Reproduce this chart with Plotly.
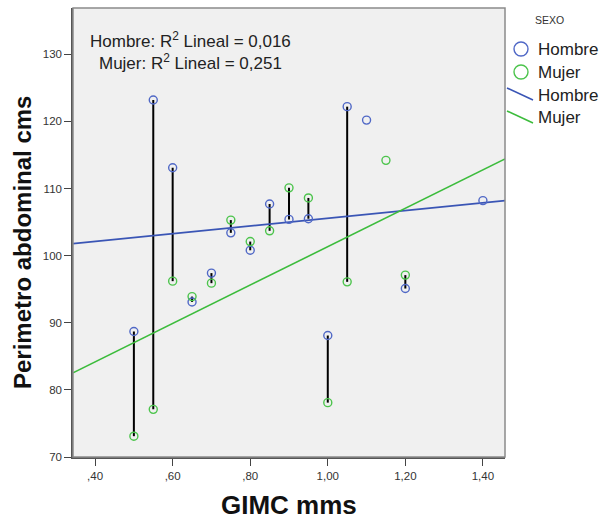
import numpy as np
import plotly.graph_objects as go

# ---------------- data ----------------
hombre_x = [0.50, 0.55, 0.60, 0.65, 0.70, 0.75, 0.80, 0.85, 0.90, 0.95, 1.00, 1.05, 1.10, 1.20, 1.40]
hombre_y = [88.7, 123.2, 113.1, 93.1, 97.4, 103.4, 100.8, 107.7, 105.4, 105.5, 88.1, 122.2, 120.2, 95.1, 108.2]
mujer_x = [0.50, 0.55, 0.60, 0.65, 0.70, 0.75, 0.80, 0.85, 0.90, 0.95, 1.00, 1.05, 1.15, 1.20]
mujer_y = [73.1, 77.1, 96.2, 93.9, 95.9, 105.3, 102.1, 103.7, 110.1, 108.6, 78.1, 96.1, 114.2, 97.1]
groups = ["Hombre", "Mujer"]
r2_values = ["0,016", "0,251"]
x_tickvals = [0.40, 0.60, 0.80, 1.00, 1.20, 1.40]
x_ticktext = [",40", ",60", ",80", "1,00", "1,20", "1,40"]
y_tickvals = [70, 80, 90, 100, 110, 120, 130]
x_title = "GIMC mms"
y_title = "Perimetro abdominal cms"
legend_title = "SEXO"

# ---------------- styling ----------------
FONT = "Arial, Liberation Sans, sans-serif"
H_MARK = "#5068c6"
M_MARK = "#4cc44c"
H_LINE = "#3a55b5"
M_LINE = "#3cbc3c"
X_RANGE = [0.343, 1.457]
Y_RANGE = [70, 136.9]
W, H = 601, 519
ML, MR, MT, MB = 73, 96, 8, 62
PW, PH = W - ML - MR, H - MT - MB


def px2paper(px, py):
    return (px - ML) / PW, (H - MB - py) / PH


fig = go.Figure()

# drop lines between the two groups at equal x
hm = dict(zip(hombre_x, hombre_y))
mm = dict(zip(mujer_x, mujer_y))
dl_x, dl_y = [], []
for xv in hombre_x:
    if xv in mm:
        dl_x += [xv, xv, None]
        dl_y += [hm[xv], mm[xv], None]
fig.add_trace(go.Scatter(x=dl_x, y=dl_y, mode="lines",
                         line=dict(color="black", width=2), hoverinfo="skip", showlegend=False))

# regression lines
for xs, ys, col in [(hombre_x, hombre_y, H_LINE), (mujer_x, mujer_y, M_LINE)]:
    b, a = np.polyfit(xs, ys, 1)
    lx = np.array(X_RANGE)
    fig.add_trace(go.Scatter(x=lx, y=a + b * lx, mode="lines",
                             line=dict(color=col, width=1.6), showlegend=False, hoverinfo="skip"))

# points
fig.add_trace(go.Scatter(x=hombre_x, y=hombre_y, mode="markers", name="Hombre",
                         marker=dict(symbol="circle-open", size=8, color=H_MARK, line=dict(width=1.4)),
                         showlegend=False))
fig.add_trace(go.Scatter(x=mujer_x, y=mujer_y, mode="markers", name="Mujer",
                         marker=dict(symbol="circle-open", size=8, color=M_MARK, line=dict(width=1.4)),
                         showlegend=False))

shapes = []
annotations = []

# plot frame (light top/right)
shapes.append(dict(type="rect", xref="paper", yref="paper", x0=0, x1=1, y0=0, y1=1,
                   line=dict(color="#8a8a8a", width=1.5), layer="above"))

# R2 text
annotations.append(dict(
    xref="paper", yref="paper", x=px2paper(190, 0)[0], y=px2paper(0, 51)[1],
    xanchor="center", yanchor="middle", align="center", showarrow=False,
    text="<br>".join(f"{g}: R<sup>2</sup> Lineal = {r}" for g, r in zip(groups, r2_values)),
    font=dict(family=FONT, size=17, color="#222222")))

# axis titles
annotations.append(dict(xref="paper", yref="paper", x=px2paper(289, 0)[0], y=px2paper(0, 505)[1],
                        xanchor="center", yanchor="middle", showarrow=False, text=f"<b>{x_title}</b>",
                        font=dict(family=FONT, size=26, color="#111111")))
annotations.append(dict(xref="paper", yref="paper", x=px2paper(22, 0)[0], y=px2paper(0, 243)[1],
                        xanchor="center", yanchor="middle", showarrow=False, textangle=-90,
                        text=f"<b>{y_title}</b>",
                        font=dict(family=FONT, size=24, color="#111111")))

# custom legend
lx0, ly0 = px2paper(533, 20)
annotations.append(dict(xref="paper", yref="paper", x=lx0, y=ly0, xanchor="left", yanchor="middle",
                        showarrow=False, text=legend_title, font=dict(family=FONT, size=10.5, color="#333333")))
legend_rows = [(49, "circle", H_MARK, groups[0]), (72, "circle", M_MARK, groups[1]),
               (95, "line", H_LINE, groups[0]), (118, "line", M_LINE, groups[1])]
for py, kind, col, label in legend_rows:
    if kind == "circle":
        ax, ay = px2paper(521, py)
        shapes.append(dict(type="circle", xref="paper", yref="paper", xsizemode="pixel", ysizemode="pixel",
                           xanchor=ax, yanchor=ay, x0=-7, x1=7, y0=-7, y1=7,
                           line=dict(color=col, width=1.4)))
    else:
        ax, ay = px2paper(507, py - 7)
        shapes.append(dict(type="line", xref="paper", yref="paper", xsizemode="pixel", ysizemode="pixel",
                           xanchor=ax, yanchor=ay, x0=0, x1=26, y0=0, y1=-12,
                           line=dict(color=col, width=1.6)))
    tx, ty = px2paper(536, py)
    annotations.append(dict(xref="paper", yref="paper", x=tx, y=ty, xanchor="left", yanchor="middle",
                            showarrow=False, text=label, font=dict(family=FONT, size=17, color="#222222")))

axis_common = dict(showgrid=False, zeroline=False, showline=True, linecolor="#555555", linewidth=1.5,
                   ticks="outside", ticklen=7, tickwidth=1.2, tickcolor="#444444",
                   tickfont=dict(family=FONT, size=11.5, color="#333333"))

fig.update_layout(
    width=W, height=H, margin=dict(l=ML, r=MR, t=MT, b=MB),
    paper_bgcolor="white", plot_bgcolor="#f0f0f0",
    showlegend=False, shapes=shapes, annotations=annotations,
    xaxis=dict(range=X_RANGE, tickvals=x_tickvals, ticktext=x_ticktext, **axis_common),
    yaxis=dict(range=Y_RANGE, tickvals=y_tickvals, **axis_common),
)

fig.write_html("out.html")
